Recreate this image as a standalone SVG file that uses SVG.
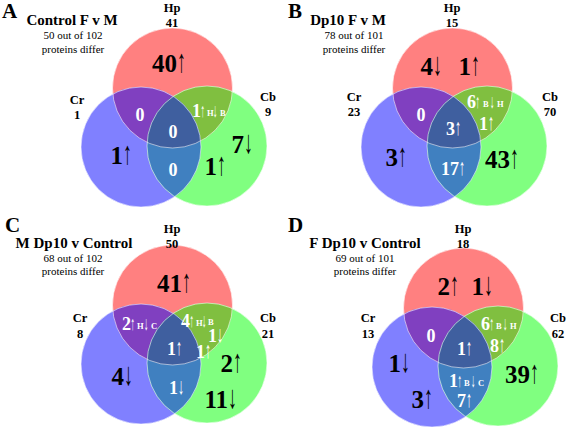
<svg xmlns="http://www.w3.org/2000/svg" width="567" height="430" viewBox="0 0 567 430">
<style>
text{font-family:"Liberation Serif","Times New Roman",serif;font-weight:bold}
.pl{font-size:21px}
.ti{font-size:15px;text-anchor:middle}
.sub{font-size:11px;font-weight:normal;text-anchor:middle}
.set{font-size:12.5px;text-anchor:middle}
.big{font-size:25px;fill:#000;text-anchor:end}
.w{font-size:18px;fill:#fff;text-anchor:end}
.wm{font-size:18px;fill:#fff;text-anchor:middle}
.ab{font-size:25px;fill:#000;font-weight:normal}
.aw{font-size:18px;fill:#fff;font-weight:normal}
.as{font-size:14px;fill:#fff;font-weight:bold}
.s{font-size:8.5px;fill:#fff}
.hp{fill:#ff8080}.cr{fill:#8080ff}.cb{fill:#80ff80}
.hc{fill:#8040c0}.hb{fill:#80bf40}.rb{fill:#4080c0}.ctr{fill:#3f5f9f}
.edge{fill:none;stroke:#fff;stroke-opacity:0.55;stroke-width:1}
</style>
<defs>
<clipPath id="kHp"><circle cx="172.5" cy="88" r="60"/></clipPath>
<clipPath id="kCr"><circle cx="141" cy="147" r="60"/></clipPath>
<clipPath id="kCb"><circle cx="207" cy="146" r="60"/></clipPath>
<g id="venn">
<circle class="hp" cx="172.5" cy="88" r="60"/>
<circle class="cr" cx="141" cy="147" r="60"/>
<circle class="cb" cx="207" cy="146" r="60"/>
<circle class="hc" cx="141" cy="147" r="60" clip-path="url(#kHp)"/>
<circle class="hb" cx="207" cy="146" r="60" clip-path="url(#kHp)"/>
<circle class="rb" cx="207" cy="146" r="60" clip-path="url(#kCr)"/>
<g clip-path="url(#kHp)"><circle class="ctr" cx="207" cy="146" r="60" clip-path="url(#kCr)"/></g>
<circle class="edge" cx="172.5" cy="88" r="60"/>
<circle class="edge" cx="141" cy="147" r="60"/>
<circle class="edge" cx="207" cy="146" r="60"/>
</g>
</defs>

<g id="panelA">
<use href="#venn"/>
<text class="pl" x="2" y="18">A</text>
<text class="ti" x="72" y="25">Control F v M</text>
<text class="sub" x="73" y="39">50 out of 102</text>
<text class="sub" x="73" y="53">proteins differ</text>
<g id="A-Hp"><text class="set" x="172" y="12">Hp</text><text class="set" x="172" y="27">41</text></g>
<g id="A-Cr"><text class="set" x="77" y="104">Cr</text><text class="set" x="77" y="119">1</text></g>
<g id="A-Cb"><text class="set" x="268" y="101">Cb</text><text class="set" x="268" y="116">9</text></g>
<g id="A-Hp-only"><text class="big" x="177" y="72">40</text><text class="ab" transform="translate(177,72) scale(0.7,1.3)">↑</text></g>
<g id="A-HpCr"><text class="wm" x="140" y="121">0</text></g>
<g id="A-all"><text class="wm" x="173" y="138">0</text></g>
<g id="A-CrCb"><text class="wm" x="173" y="176">0</text></g>
<g id="A-HpCb"><text class="w" x="201" y="117">1</text><text class="as" transform="translate(200.5,117) scale(0.65,1.4)">↑</text><text class="s" x="207" y="116">H</text><text class="as" transform="translate(213,117) scale(0.65,1.4)">↓</text><text class="s" x="220" y="116">B</text></g>
<g id="A-Cr-only"><text class="big" x="123" y="164">1</text><text class="ab" transform="translate(123,164) scale(0.7,1.3)">↑</text></g>
<g id="A-Cb-only"><text class="big" x="244" y="153">7</text><text class="ab" transform="translate(244,153) scale(0.7,1.3)">↓</text>
<text class="big" x="217" y="175">1</text><text class="ab" transform="translate(217,175) scale(0.7,1.3)">↑</text></g>
</g>

<g id="panelB">
<use href="#venn" transform="translate(280,0)"/>
<text class="pl" x="288" y="18">B</text>
<text class="ti" x="348" y="25">Dp10 F v M</text>
<text class="sub" x="354" y="39">78 out of 101</text>
<text class="sub" x="354" y="53">proteins differ</text>
<g id="B-Hp"><text class="set" x="452" y="12">Hp</text><text class="set" x="452" y="27">15</text></g>
<g id="B-Cr"><text class="set" x="354" y="101">Cr</text><text class="set" x="354" y="116">23</text></g>
<g id="B-Cb"><text class="set" x="550" y="101">Cb</text><text class="set" x="550" y="116">70</text></g>
<g id="B-Hp-only"><text class="big" x="433" y="75">4</text><text class="ab" transform="translate(433,75) scale(0.7,1.3)">↓</text>
<text class="big" x="471" y="75">1</text><text class="ab" transform="translate(471,75) scale(0.7,1.3)">↑</text></g>
<g id="B-HpCr"><text class="wm" x="421" y="121">0</text></g>
<g id="B-all"><text class="w" x="455" y="135">3</text><text class="aw" transform="translate(455,135) scale(0.7,1.3)">↑</text></g>
<g id="B-HpCb"><text class="w" x="476" y="108">6</text><text class="as" transform="translate(475.5,108) scale(0.65,1.4)">↑</text><text class="s" x="483" y="107">B</text><text class="as" transform="translate(490,108) scale(0.65,1.4)">↓</text><text class="s" x="497" y="107">H</text>
<text class="w" x="488" y="130">1</text><text class="aw" transform="translate(488,130) scale(0.7,1.3)">↑</text></g>
<g id="B-Cr-only"><text class="big" x="398" y="166">3</text><text class="ab" transform="translate(398,166) scale(0.7,1.3)">↑</text></g>
<g id="B-CrCb"><text class="w" x="459" y="175">17</text><text class="aw" transform="translate(459,175) scale(0.7,1.3)">↑</text></g>
<g id="B-Cb-only"><text class="big" x="510" y="168">43</text><text class="ab" transform="translate(510,168) scale(0.7,1.3)">↑</text></g>
</g>

<g id="panelC">
<use href="#venn" transform="translate(0,217)"/>
<text class="pl" x="5" y="232">C</text>
<text class="ti" x="74" y="248">M Dp10 v Control</text>
<text class="sub" x="73" y="262">68 out of 102</text>
<text class="sub" x="73" y="275">proteins differ</text>
<g id="C-Hp"><text class="set" x="172" y="233">Hp</text><text class="set" x="172" y="248">50</text></g>
<g id="C-Cr"><text class="set" x="80" y="322">Cr</text><text class="set" x="80" y="338">8</text></g>
<g id="C-Cb"><text class="set" x="268" y="322">Cb</text><text class="set" x="268" y="338">21</text></g>
<g id="C-Hp-only"><text class="big" x="182" y="292">41</text><text class="ab" transform="translate(182,292) scale(0.7,1.3)">↑</text></g>
<g id="C-HpCr"><text class="w" x="131" y="330">2</text><text class="as" transform="translate(130.5,330) scale(0.65,1.4)">↑</text><text class="s" x="137" y="329">H</text><text class="as" transform="translate(144,330) scale(0.65,1.4)">↓</text><text class="s" x="151" y="329">C</text></g>
<g id="C-HpCb"><text class="w" x="190" y="327">4</text><text class="as" transform="translate(189.5,327) scale(0.65,1.4)">↑</text><text class="s" x="196" y="326">H</text><text class="as" transform="translate(202,327) scale(0.65,1.4)">↓</text><text class="s" x="208" y="325">B</text>
<text class="w" x="217" y="342">1</text><text class="aw" transform="translate(217,342) scale(0.7,1.3)">↓</text>
<text class="w" x="205" y="358">1</text><text class="aw" transform="translate(205,358) scale(0.7,1.3)">↑</text></g>
<g id="C-all"><text class="w" x="176" y="355">1</text><text class="aw" transform="translate(176,355) scale(0.7,1.3)">↑</text></g>
<g id="C-CrCb"><text class="w" x="178" y="394">1</text><text class="aw" transform="translate(178,394) scale(0.7,1.3)">↓</text></g>
<g id="C-Cb-only"><text class="big" x="233" y="372">2</text><text class="ab" transform="translate(233,372) scale(0.7,1.3)">↑</text>
<text class="big" x="228" y="408">11</text><text class="ab" transform="translate(228,408) scale(0.7,1.3)">↓</text></g>
<g id="C-Cr-only"><text class="big" x="124" y="385">4</text><text class="ab" transform="translate(124,385) scale(0.7,1.3)">↓</text></g>
</g>

<g id="panelD">
<use href="#venn" transform="translate(291,220)"/>
<text class="pl" x="288" y="232">D</text>
<text class="ti" x="365" y="248">F Dp10 v Control</text>
<text class="sub" x="365" y="262">69 out of 101</text>
<text class="sub" x="365" y="275">proteins differ</text>
<g id="D-Hp"><text class="set" x="463" y="233">Hp</text><text class="set" x="463" y="248">18</text></g>
<g id="D-Cr"><text class="set" x="368" y="322">Cr</text><text class="set" x="368" y="338">13</text></g>
<g id="D-Cb"><text class="set" x="558" y="322">Cb</text><text class="set" x="558" y="338">62</text></g>
<g id="D-Hp-only"><text class="big" x="450" y="295">2</text><text class="ab" transform="translate(450,295) scale(0.7,1.3)">↑</text>
<text class="big" x="484" y="295">1</text><text class="ab" transform="translate(484,295) scale(0.7,1.3)">↓</text></g>
<g id="D-HpCr"><text class="wm" x="431" y="342">0</text></g>
<g id="D-all"><text class="w" x="466" y="355">1</text><text class="aw" transform="translate(466,355) scale(0.7,1.3)">↑</text></g>
<g id="D-HpCb"><text class="w" x="490" y="330">6</text><text class="as" transform="translate(489.5,330) scale(0.65,1.4)">↑</text><text class="s" x="496" y="329">B</text><text class="as" transform="translate(503,330) scale(0.65,1.4)">↓</text><text class="s" x="510" y="329">H</text>
<text class="w" x="499" y="352">8</text><text class="aw" transform="translate(499,352) scale(0.7,1.3)">↑</text></g>
<g id="D-Cr-only"><text class="big" x="401" y="372">1</text><text class="ab" transform="translate(401,372) scale(0.7,1.3)">↓</text>
<text class="big" x="424" y="408">3</text><text class="ab" transform="translate(424,408) scale(0.7,1.3)">↑</text></g>
<g id="D-CrCb"><text class="w" x="458" y="387">1</text><text class="as" transform="translate(457.5,387) scale(0.65,1.4)">↑</text><text class="s" x="464" y="386">B</text><text class="as" transform="translate(471,387) scale(0.65,1.4)">↓</text><text class="s" x="478" y="386">C</text>
<text class="w" x="466" y="407">7</text><text class="aw" transform="translate(466,407) scale(0.7,1.3)">↑</text></g>
<g id="D-Cb-only"><text class="big" x="530" y="383">39</text><text class="ab" transform="translate(530,383) scale(0.7,1.3)">↑</text></g>
</g>
</svg>
